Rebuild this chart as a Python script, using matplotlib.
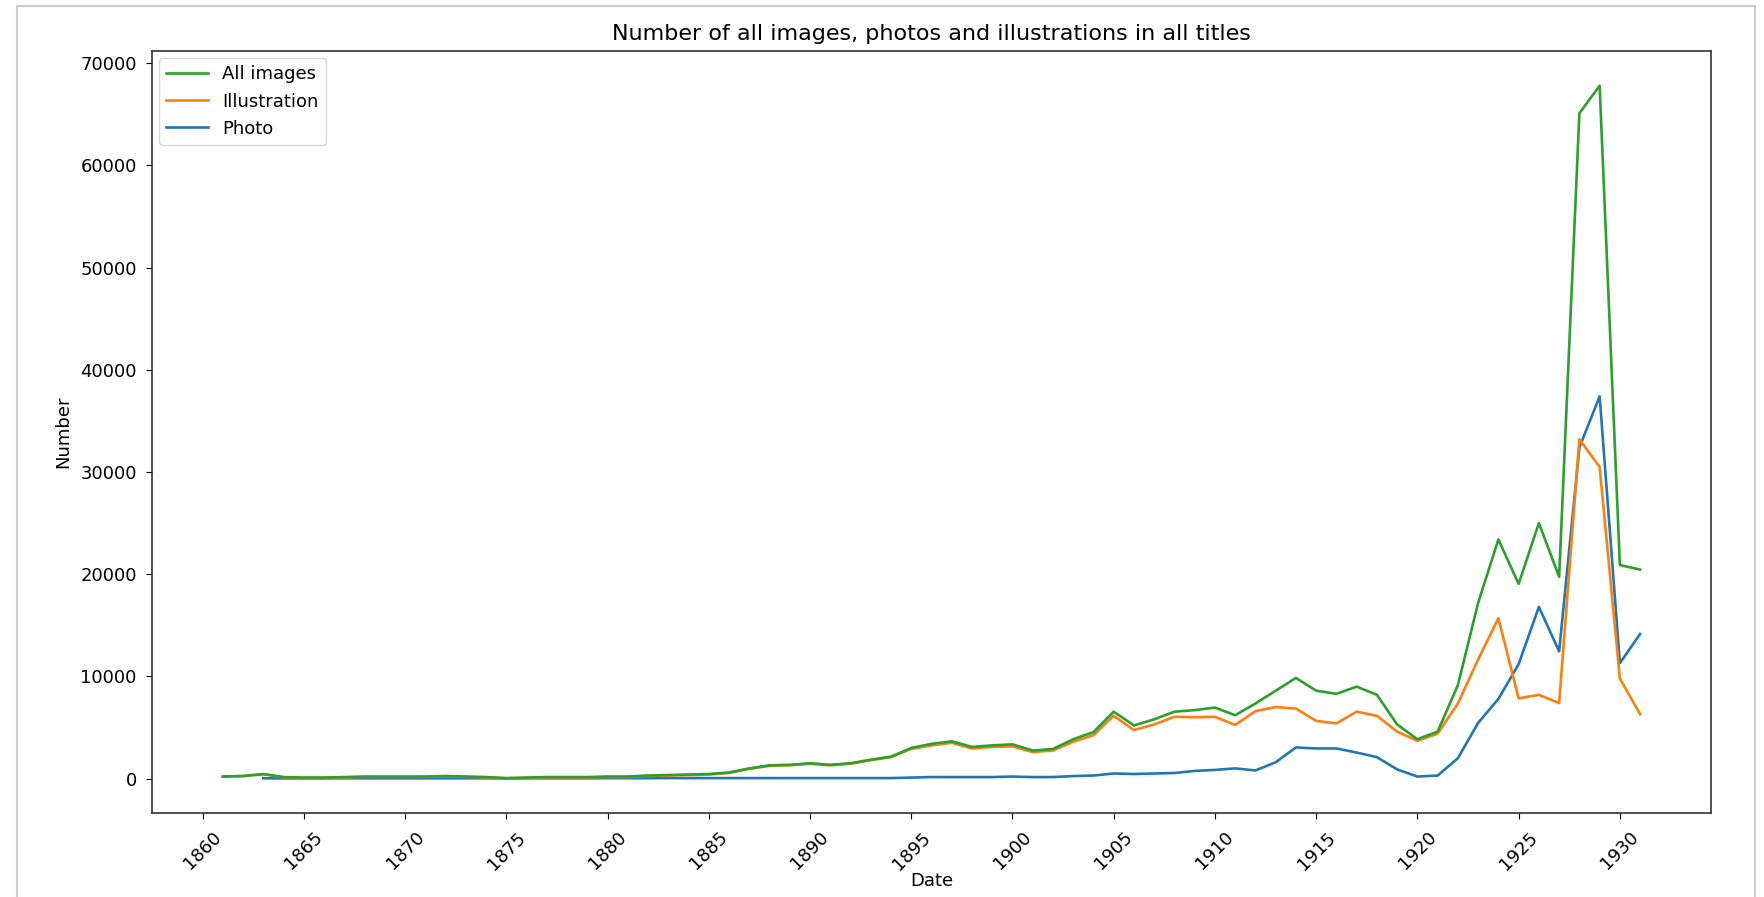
import matplotlib
matplotlib.use("Agg")
import matplotlib.pyplot as plt
import matplotlib.ticker as mtick
from matplotlib.patches import Rectangle
import numpy as np

# ── Data ──────────────────────────────────────────────────────────────────────

years = np.arange(1861, 1932)

all_images = [
    200, 250, 450, 150, 100, 100, 150, 200, 200, 200,          # 1861-1870
    200, 250, 200, 150, 50, 100, 150, 150, 150, 200,           # 1871-1880
    200, 300, 350, 400, 450, 600, 1000, 1300, 1350, 1500,      # 1881-1890
    1350, 1500, 1850, 2150, 3000, 3400, 3650, 3100, 3250, 3350,  # 1891-1900
    2750, 2900, 3850, 4550, 6550, 5200, 5800, 6550, 6700, 6950,  # 1901-1910
    6200, 7350, 8600, 9850, 8600, 8300, 9000, 8200, 5300, 3850,  # 1911-1920
    4600, 9150, 17200, 23400, 19050, 25000, 19750, 65100, 67800, 20900,  # 1921-1930
    20450,                                                     # 1931
]

illustration = [
    200, 250, 420, 130, 80, 80, 120, 170, 170, 170,
    170, 220, 170, 120, 30, 70, 120, 120, 120, 160,
    160, 260, 310, 350, 400, 550, 950, 1250, 1300, 1450,
    1300, 1450, 1800, 2100, 2900, 3250, 3500, 2950, 3100, 3150,
    2600, 2750, 3600, 4250, 6150, 4750, 5300, 6050, 6000, 6050,
    5250, 6600, 7000, 6850, 5650, 5400, 6550, 6150, 4600, 3700,
    4400, 7350, 11650, 15700, 7850, 8200, 7400, 33200, 30500, 9800,
    6300,
]

photo_years = np.arange(1863, 1932)
photo = [
    30, 20, 20, 20, 30, 30, 30, 30, 30, 30,                    # 1863-1872
    30, 30, 20, 30, 30, 30, 30, 40, 40, 40,                    # 1873-1882
    50, 50, 50, 50, 50, 50, 50, 50, 50, 50,                    # 1883-1892
    50, 50, 100, 150, 150, 150, 150, 200, 150, 150,            # 1893-1902
    250, 300, 500, 450, 500, 550, 750, 850, 1000, 800,         # 1903-1912
    1600, 3050, 2950, 2950, 2550, 2100, 900, 200, 300, 2000,   # 1913-1922
    5450, 7800, 11200, 16800, 12450, 32400, 37400, 11300, 14150,  # 1923-1931
]

plt.rcParams["font.size"] = 13

fig = plt.figure(figsize=(17.65, 8.97), dpi=100)
fig.subplots_adjust(left=0.0861, right=0.9694, top=0.9431, bottom=0.0936)
ax = fig.add_subplot(111)

# notebook-style light frame around the output
fig.patches.append(Rectangle((17 / 1765, -0.05), (1755 - 17) / 1765, 1.05 - 6 / 897,
                             transform=fig.transFigure, fill=False,
                             edgecolor="#cccccc", linewidth=1.5))

lw = 1.9
l_photo, = ax.plot(photo_years, photo, color="#1f77b4", linewidth=lw, label="Photo")
l_ill,   = ax.plot(years, illustration, color="#ff7f0e", linewidth=lw, label="Illustration")
l_all,   = ax.plot(years, all_images, color="#2ca02c", linewidth=lw, label="All images")

ax.legend(handles=[l_all, l_ill, l_photo], loc="upper left", handlelength=2.3,
          borderaxespad=0.4)
ax.set_title("Number of all images, photos and illustrations in all titles",
             fontsize=16, pad=8)
ax.set_xlabel("Date", labelpad=-1)
ax.set_ylabel("Number", labelpad=6)
ax.xaxis.set_major_locator(mtick.MultipleLocator(5))
ax.tick_params(length=4, pad=7)
plt.setp(ax.get_xticklabels(), rotation=45)
for s in ax.spines.values():
    s.set_color("#333333")
    s.set_linewidth(1.2)

fig.savefig("out.png", dpi=100)
